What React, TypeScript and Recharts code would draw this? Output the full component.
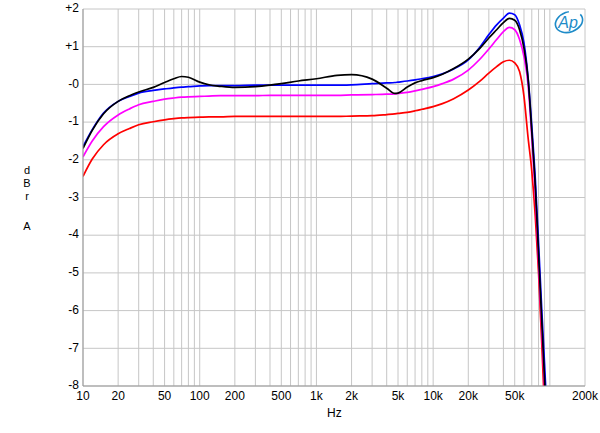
import { LineChart, Line, XAxis, YAxis, CartesianGrid } from 'recharts';

// frequency points (Hz) shared by all four traces
const freqs = [
  10, 12, 15, 20, 25, 30, 40, 50, 60, 70, 80, 100, 120, 150, 200, 300, 400, 500, 700,
  1000, 1500, 2000, 3000, 4000, 4700, 5000, 6000, 7000, 8000, 10000, 12000, 15000,
  20000, 25000, 30000, 35000, 40000, 45000, 50000, 55000, 60000, 65000, 70000, 75000,
  80000, 85000, 90000, 95000,
];

// dBrA readings per trace
const blueTrace = [
  -1.65, -1.2, -0.76, -0.45, -0.32, -0.23, -0.16, -0.12, -0.09, -0.07, -0.06, -0.04, -0.03, -0.03, -0.03, -0.02, -0.02, -0.02, -0.02,
  -0.02, -0.02, -0.01, 0.02, 0.04, 0.05, 0.06, 0.09, 0.12, 0.15, 0.21, 0.28, 0.41,
  0.65, 0.98, 1.32, 1.58, 1.76, 1.89, 1.85, 1.58, 1.1, 0.2, -1.1, -2.5,
  -4.2, -5.9, -7.4, -8.9,
];
const blackTrace = [
  -1.7, -1.22, -0.78, -0.45, -0.3, -0.2, -0.08, 0.05, 0.15, 0.21, 0.19, 0.06, -0.01, -0.05, -0.08, -0.06, -0.02, 0.02, 0.09,
  0.15, 0.24, 0.26, 0.14, -0.1, -0.24, -0.23, -0.07, 0.04, 0.1, 0.18, 0.27, 0.42,
  0.67, 0.95, 1.23, 1.45, 1.64, 1.75, 1.7, 1.45, 0.96, 0.17, -1.25, -2.7,
  -4.5, -6.2, -7.8, -9.3,
];
const magentaTrace = [
  -1.92, -1.5, -1.12, -0.81, -0.65, -0.54, -0.45, -0.39, -0.36, -0.34, -0.33, -0.32, -0.31, -0.3, -0.3, -0.3, -0.29, -0.29, -0.29,
  -0.29, -0.29, -0.28, -0.27, -0.26, -0.25, -0.24, -0.21, -0.17, -0.13, -0.06, 0.02, 0.14,
  0.38, 0.66, 0.94, 1.19, 1.4, 1.51, 1.45, 1.19, 0.74, 0.0, -1.4, -2.9,
  -4.7, -6.4, -8.0, -9.5,
];
const redTrace = [
  -2.44, -1.98, -1.6, -1.31, -1.17, -1.07, -0.99, -0.94, -0.91, -0.89, -0.88, -0.87, -0.86, -0.86, -0.85, -0.85, -0.85, -0.85, -0.85,
  -0.85, -0.85, -0.84, -0.83, -0.8, -0.78, -0.77, -0.74, -0.7, -0.66, -0.59, -0.51, -0.38,
  -0.15, 0.08, 0.3, 0.47, 0.6, 0.64, 0.57, 0.34, -0.32, -1.4, -2.3, -3.5,
  -5.0, -6.8, -8.6, -10.2,
];

const xLabels = [10, 20, 50, 100, 200, 500, 1000, 2000, 5000, 10000, 20000, 50000, 200000];
const yTicks = [2, 1, 0, -1, -2, -3, -4, -5, -6, -7, -8];
const decades = [10, 100, 1000, 10000, 100000];
const multipliers = [1, 2, 3, 4, 5, 6, 7, 8, 9];

const gridFreqs = decades.flatMap((d) => multipliers.map((m) => m * d)).filter((f) => f <= 200000);
const minorY = Array.from({ length: 101 }, (_, i) => Math.round((-8 + i / 10) * 10) / 10);

const data = freqs.map((f, i) => ({
  f,
  blue: blueTrace[i],
  black: blackTrace[i],
  magenta: magentaTrace[i],
  red: redTrace[i],
}));

const font = 'Arial, "Liberation Sans", sans-serif';

const fmtX = (v: number) => {
  if (!xLabels.includes(v)) return '';
  return v >= 1000 ? `${v / 1000}k` : String(v);
};
const fmtY = (v: number) => (v > 0 ? `+${v}` : v === 0 ? '-0' : String(v));

const letter = (t: string, top: number) => (
  <div
    key={t + top}
    style={{
      position: 'absolute', left: 21, top, width: 12, height: 12, lineHeight: '12px',
      textAlign: 'center', fontSize: 11, fontFamily: font, color: '#000',
    }}
  >
    {t}
  </div>
);

export default function App() {
  return (
    <div style={{ position: 'relative', width: 600, height: 433, background: '#fff' }}>
      <style>{'body{margin:0}'}</style>
      <LineChart width={600} height={433} data={data} margin={{ top: 9, right: 15, left: 0, bottom: 17 }}>
        <CartesianGrid stroke="#c6c6c6" />
        <XAxis
          dataKey="f"
          type="number"
          scale="log"
          domain={[10, 200000]}
          ticks={gridFreqs}
          interval={0}
          tickFormatter={fmtX}
          tickLine={false}
          tickSize={3}
          tickMargin={2}
          height={30}
          allowDataOverflow
          axisLine={{ stroke: '#999' }}
          tick={{ fill: '#000', fontSize: 12, fontFamily: font }}
        />
        <YAxis
          type="number"
          domain={[-8, 2]}
          ticks={yTicks}
          interval={0}
          tickFormatter={fmtY}
          tickLine={false}
          tickSize={4}
          tickMargin={0}
          width={83}
          allowDataOverflow
          axisLine={{ stroke: '#999' }}
          tick={{ fill: '#000', fontSize: 12, fontFamily: font, dy: -1 }}
        />
        <YAxis
          yAxisId="minor"
          type="number"
          domain={[-8, 2]}
          ticks={minorY}
          interval={0}
          tickFormatter={() => ''}
          mirror
          width={0}
          tickSize={5}
          axisLine={false}
          tickLine={{ stroke: '#c6c6c6' }}
        />
        <Line type="monotone" dataKey="red" stroke="#ff0000" strokeWidth={1.7} dot={false} isAnimationActive={false} />
        <Line type="monotone" dataKey="magenta" stroke="#ff00ff" strokeWidth={1.7} dot={false} isAnimationActive={false} />
        <Line type="monotone" dataKey="blue" stroke="#0000ff" strokeWidth={1.7} dot={false} isAnimationActive={false} />
        <Line type="monotone" dataKey="black" stroke="#000000" strokeWidth={1.7} dot={false} isAnimationActive={false} />
      </LineChart>
      {letter('d', 164)}
      {letter('B', 177)}
      {letter('r', 190)}
      {letter('A', 220)}
      <div style={{ position: 'absolute', left: 327, top: 406, fontSize: 12, fontFamily: font, color: '#000' }}>Hz</div>
      <svg width={32} height={26} style={{ position: 'absolute', left: 553, top: 9 }}>
        <ellipse cx={16} cy={13} rx={14} ry={10} fill="none" stroke="#1e8bc8" strokeWidth={1.6} transform="rotate(-20 16 13)" strokeDasharray="60 12" />
        <text x={15} y={19} textAnchor="middle" fontSize={16} fontStyle="italic" fontFamily={font} fill="#1e8bc8">Ap</text>
      </svg>
    </div>
  );
}
